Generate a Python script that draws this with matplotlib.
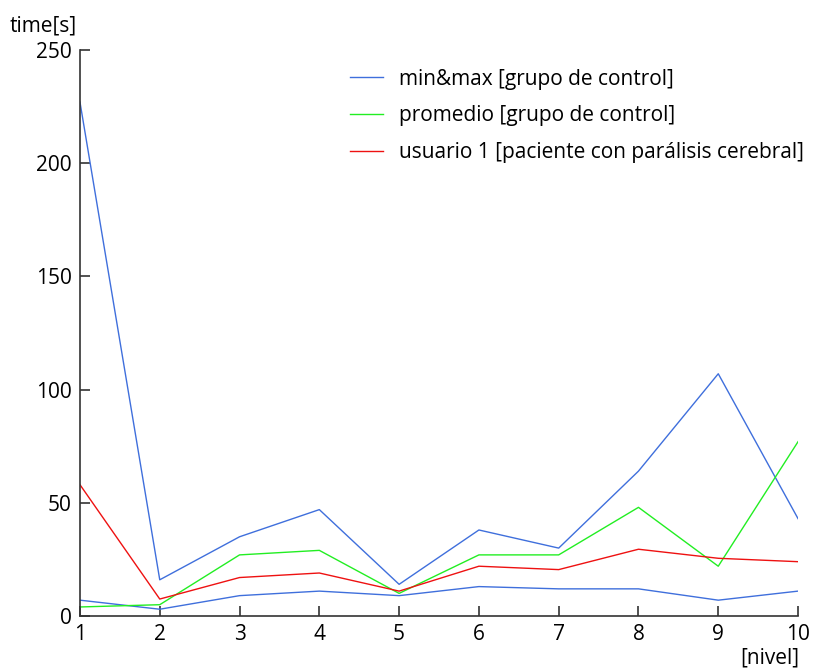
import matplotlib
matplotlib.use("Agg")
import matplotlib.pyplot as plt

plt.rcParams['font.family'] = ['Open Sans', 'DejaVu Sans']

niveles = [1, 2, 3, 4, 5, 6, 7, 8, 9, 10]
max_ctrl = [227, 16, 35, 47, 14, 38, 30, 64, 107, 43]
min_ctrl = [7, 3, 9, 11, 9, 13, 12, 12, 7, 11]
promedio = [4, 5, 27, 29, 10, 27, 27, 48, 22, 77]
usuario1 = [58, 7.5, 17, 19, 11, 22, 20.5, 29.5, 25.5, 24]
yticks = [0, 50, 100, 150, 200, 250]

fig = plt.figure(figsize=(8.16, 6.72), dpi=100)
ax = fig.add_axes([0.098, 0.0833, 0.880, 0.8423])

blue = '#3f6fdc'
green = '#22ee22'
red = '#ee1111'
ax.plot(niveles, max_ctrl, color=blue, lw=1.0, label='min&max [grupo de control]')
ax.plot(niveles, min_ctrl, color=blue, lw=1.0)
ax.plot(niveles, promedio, color=green, lw=1.0, label='promedio [grupo de control]')
ax.plot(niveles, usuario1, color=red, lw=1.0, label='usuario 1 [paciente con parálisis cerebral]')

ax.set_xlim(1, 10)
ax.set_ylim(0, 250)
ax.set_xticks(niveles)
ax.set_yticks(yticks)
for s in ['top', 'right']:
    ax.spines[s].set_visible(False)
for s in ['left', 'bottom']:
    ax.spines[s].set_color('#333333')
    ax.spines[s].set_linewidth(1.2)
ax.tick_params(direction='in', length=7, width=1.2, color='#333333', labelsize=15, pad=6)

fig.text(0.012, 0.962, 'time[s]', fontsize=15, ha='left', va='center')
fig.text(0.980, 0.021, '[nivel]', fontsize=15, ha='right', va='center')

leg = ax.legend(loc='upper left', bbox_to_anchor=(0.35, 1.0), frameon=False,
                fontsize=15, handlelength=1.6, handletextpad=0.75, labelspacing=0.75)

fig.savefig('out.png', dpi=100)
